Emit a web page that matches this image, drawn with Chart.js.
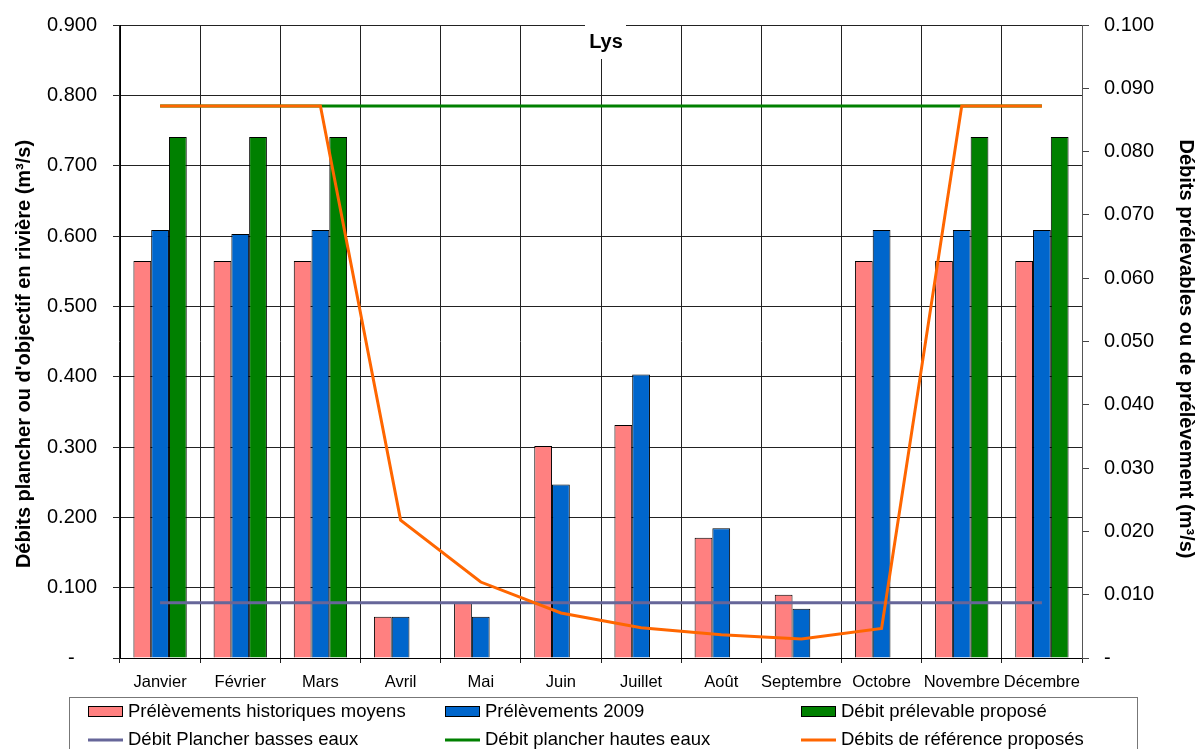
<!DOCTYPE html>
<html lang="fr">
<head>
<meta charset="UTF-8">
<title>Lys</title>
<script src="https://cdn.jsdelivr.net/npm/chart.js"></script>
<style>
  body { margin: 0; background: #fff; }
</style>
</head>
<body>
<canvas id="lysChart" width="1200" height="749"></canvas>
<script>
// data
var chartTitle = 'Lys';
var leftTitle = "Débits plancher ou d'objectif en rivière (m³/s)";
var rightTitle = 'Débits prélevables ou de prélèvement (m³/s)';
var months = ['Janvier', 'Février', 'Mars', 'Avril', 'Mai', 'Juin', 'Juillet', 'Août', 'Septembre', 'Octobre', 'Novembre', 'Décembre'];

// bars -> right axis
var prelevHisto = [0.0627, 0.0627, 0.0627, 0.0065, 0.0088, 0.0335, 0.0368, 0.0190, 0.0100, 0.0627, 0.0627, 0.0627];
var prelev2009 = [0.0676, 0.0670, 0.0676, 0.0065, 0.0065, 0.0274, 0.0448, 0.0205, 0.0078, 0.0676, 0.0676, 0.0676];
var prelevable = [0.0823, 0.0823, 0.0823, null, null, null, null, null, null, null, 0.0823, 0.0823];

// lines -> left axis
var plancherBasses = [0.0785, 0.0785, 0.0785, 0.0785, 0.0785, 0.0785, 0.0785, 0.0785, 0.0785, 0.0785, 0.0785, 0.0785];
var plancherHautes = [0.785, 0.785, 0.785, 0.785, 0.785, 0.785, 0.785, 0.785, 0.785, 0.785, 0.785, 0.785];
var reference = [0.785, 0.785, 0.785, 0.196, 0.108, 0.064, 0.043, 0.033, 0.027, 0.042, 0.785, 0.785];

Chart.defaults.font.family = '"Liberation Sans", Arial, sans-serif';
Chart.defaults.color = '#000';

function tickLabel(pad) {
    return function(value) {
        if (Math.abs(value) < 1e-9) return '-' + pad;
        return Number(value).toFixed(3);
    };
}

// fixed axis sizes so the plot area sits where the original one does
function fixWidth(w) {
    return function(s) {
        s.width = w;
        s.paddingTop = 0;
        s.paddingBottom = 0;
    };
}

// title "Lys" + both axis titles
var titlesPlugin = {
    id: 'titles',
    afterDraw: function(chart) {
        var ctx = chart.ctx;
        ctx.save();
        ctx.fillStyle = '#fff';
        ctx.fillRect(585, 18, 41, 41);
        ctx.fillStyle = '#000';
        ctx.font = 'bold 20px "Liberation Sans", Arial, sans-serif';
        ctx.textAlign = 'center';
        ctx.textBaseline = 'alphabetic';
        ctx.fillText(chartTitle, 606, 48);

        ctx.textBaseline = 'middle';
        ctx.save();
        ctx.translate(24, 354);
        ctx.rotate(-Math.PI / 2);
        ctx.fillText(leftTitle, 0, 0);
        ctx.restore();

        ctx.save();
        ctx.translate(1186, 349);
        ctx.rotate(Math.PI / 2);
        ctx.fillText(rightTitle, 0, 0);
        ctx.restore();
        ctx.restore();
    }
};

// boxed legend, 3 columns x 2 rows
var legendPlugin = {
    id: 'boxLegend',
    afterDraw: function(chart) {
        var ctx = chart.ctx;
        var cols = [88, 445, 801];
        var rows = [711.5, 740];
        ctx.save();
        ctx.strokeStyle = '#777';
        ctx.lineWidth = 1;
        ctx.strokeRect(69.5, 697.5, 1068, 60);
        ctx.font = '18.5px "Liberation Sans", Arial, sans-serif';
        ctx.textBaseline = 'middle';
        ctx.textAlign = 'left';
        chart.data.datasets.forEach(function(ds, i) {
            var x = cols[i % 3];
            var y = rows[Math.floor(i / 3)];
            if (ds.type === 'line') {
                ctx.strokeStyle = ds.borderColor;
                ctx.lineWidth = 3;
                ctx.beginPath();
                ctx.moveTo(x, y);
                ctx.lineTo(x + 35, y);
                ctx.stroke();
            } else {
                ctx.fillStyle = ds.backgroundColor;
                ctx.fillRect(x, y - 5.5, 35, 11);
                ctx.strokeStyle = '#000';
                ctx.lineWidth = 1;
                ctx.strokeRect(x + 0.5, y - 5, 34, 10);
            }
            ctx.fillStyle = '#000';
            ctx.fillText(ds.label, x + 40, y);
        });
        ctx.restore();
    }
};

var ctx = document.getElementById('lysChart').getContext('2d');
new Chart(ctx, {
    type: 'bar',
    data: {
        labels: months,
        datasets: [
            { label: 'Prélèvements historiques moyens', data: prelevHisto, yAxisID: 'y1', order: 4,
              backgroundColor: '#FF8080', borderColor: '#000', borderWidth: 1 },
            { label: 'Prélèvements 2009', data: prelev2009, yAxisID: 'y1', order: 4,
              backgroundColor: '#0066CC', borderColor: '#000', borderWidth: 1 },
            { label: 'Débit prélevable proposé', data: prelevable, yAxisID: 'y1', order: 4,
              backgroundColor: '#008000', borderColor: '#000', borderWidth: 1 },
            { type: 'line', label: 'Débit Plancher basses eaux', data: plancherBasses, yAxisID: 'y', order: 3,
              borderColor: '#666699', borderWidth: 3, pointRadius: 0, fill: false, tension: 0 },
            { type: 'line', label: 'Débit plancher hautes eaux', data: plancherHautes, yAxisID: 'y', order: 2,
              borderColor: '#008000', borderWidth: 3, pointRadius: 0, fill: false, tension: 0 },
            { type: 'line', label: 'Débits de référence proposés', data: reference, yAxisID: 'y', order: 1,
              borderColor: '#FF6600', borderWidth: 3, pointRadius: 0, fill: false, tension: 0 }
        ]
    },
    options: {
        responsive: false,
        animation: false,
        datasets: {
            bar: { categoryPercentage: 0.665, barPercentage: 1.0 }
        },
        layout: { padding: { top: 25, bottom: 51, left: 0, right: 0 } },
        plugins: {
            legend: { display: false },
            title: { display: false },
            tooltip: { enabled: false }
        },
        scales: {
            x: {
                grid: { color: '#222', lineWidth: 1, offset: true, tickLength: 5 },
                border: { color: '#000' },
                ticks: { color: '#000', font: { size: 16.5 }, padding: 10, autoSkip: false, maxRotation: 0, minRotation: 0 },
                afterFit: function(s) { s.height = 40; s.paddingLeft = 0; s.paddingRight = 0; }
            },
            y: {
                position: 'left',
                min: 0,
                max: 0.9,
                ticks: { stepSize: 0.1, color: '#000', font: { size: 20 }, padding: 16, callback: tickLabel('    ') },
                grid: { color: '#222', lineWidth: 1, tickLength: 7 },
                border: { color: '#000' },
                afterFit: fixWidth(120)
            },
            y1: {
                position: 'right',
                min: 0,
                max: 0.1,
                ticks: { stepSize: 0.01, color: '#000', font: { size: 20 }, padding: 15, callback: tickLabel('') },
                grid: { drawOnChartArea: false, color: '#444', tickLength: 7 },
                border: { color: '#555' },
                afterFit: fixWidth(118)
            }
        }
    },
    plugins: [titlesPlugin, legendPlugin]
});
</script>
</body>
</html>
